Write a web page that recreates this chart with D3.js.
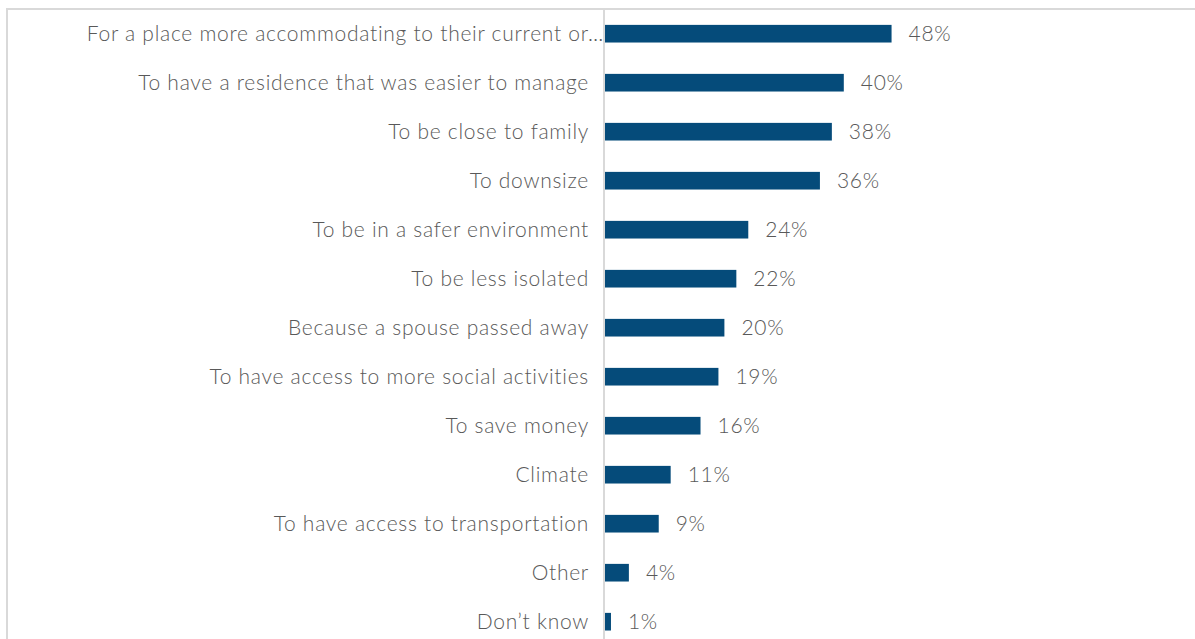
<!DOCTYPE html>
<html>
<head>
<meta charset="utf-8">
<script src="https://cdn.jsdelivr.net/npm/d3@7"></script>
<style>
  html, body { margin: 0; padding: 0; background: #fff; }
  svg { display: block; }
  text { font-family: Lato, "Open Sans", sans-serif; font-weight: 300; fill: #595959; letter-spacing: 0.72px; }
</style>
</head>
<body>
<svg id="chart" width="1195" height="639"></svg>
<script>
// Reasons for moving, share of respondents
const categories = [
  "For a place more accommodating to their current or\u2026",
  "To have a residence that was easier to manage",
  "To be close to family",
  "To downsize",
  "To be in a safer environment",
  "To be less isolated",
  "Because a spouse passed away",
  "To have access to more social activities",
  "To save money",
  "Climate",
  "To have access to transportation",
  "Other",
  "Don\u2019t know"
];
const values = [0.48, 0.40, 0.38, 0.36, 0.24, 0.22, 0.20, 0.19, 0.16, 0.11, 0.09, 0.04, 0.01];

const width = 1195, height = 639;
const svg = d3.select("#chart");

const data = categories.map((c, i) => ({ label: c, value: values[i] }));

const x = d3.scaleLinear().domain([0, 0.5]).range([605, 903.5]);
const y = d3.scaleBand()
  .domain(categories)
  .range([9.2, 646.2])
  .paddingInner(0.64)
  .paddingOuter(0.32);

// chart frame (runs past the right and bottom edges)
svg.append("rect")
  .attr("x", 7).attr("y", 9)
  .attr("width", width + 20).attr("height", height + 20)
  .attr("fill", "none")
  .attr("stroke", "#d9d9d9")
  .attr("stroke-width", 2);

// category axis line
svg.append("line")
  .attr("x1", 604).attr("x2", 604)
  .attr("y1", 9).attr("y2", height)
  .attr("stroke", "#d9d9d9")
  .attr("stroke-width", 2);

// bars
svg.append("g").selectAll("rect")
  .data(data)
  .join("rect")
  .attr("x", x(0))
  .attr("y", d => y(d.label))
  .attr("width", d => x(d.value) - x(0))
  .attr("height", y.bandwidth())
  .attr("fill", "#054b7a");

// category labels
const fontSize = 21;
svg.append("g").selectAll("text")
  .data(data)
  .join("text")
  .attr("x", d => d.label.endsWith("\u2026") ? 604 : 589)
  .attr("y", d => y(d.label) + y.bandwidth() / 2)
  .attr("dy", "0.35em")
  .attr("text-anchor", "end")
  .attr("font-size", fontSize)
  .text(d => d.label);

// value labels
const fmt = d3.format(".0%");
svg.append("g").selectAll("text")
  .data(data)
  .join("text")
  .attr("x", d => x(d.value) + 17)
  .attr("y", d => y(d.label) + y.bandwidth() / 2)
  .attr("dy", "0.35em")
  .attr("font-size", fontSize)
  .text(d => fmt(d.value));
</script>
</body>
</html>
